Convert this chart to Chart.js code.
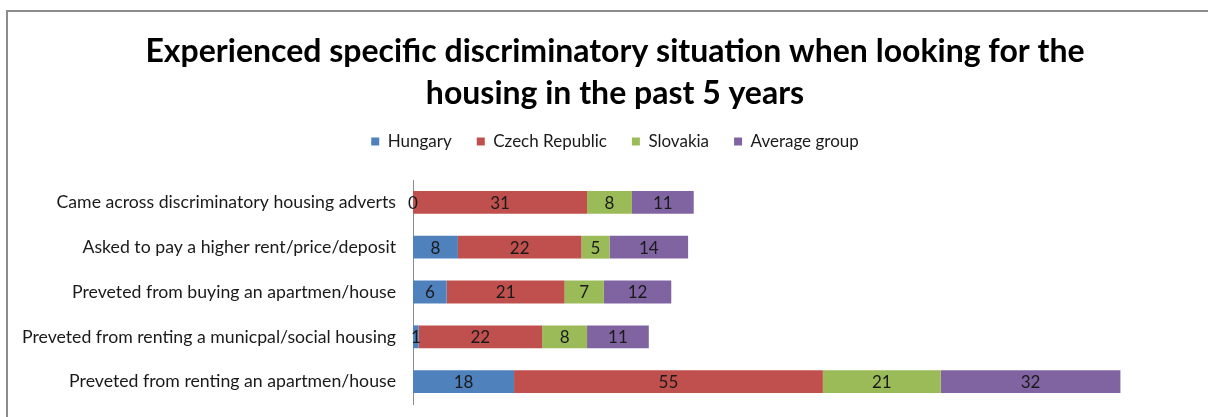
<!DOCTYPE html>
<html lang="en">
<head>
    <meta charset="UTF-8">
    <title>Discriminatory situations when looking for housing</title>
    <script src="https://cdn.jsdelivr.net/npm/chart.js"></script>
    <style>
        body { margin: 0; background: #fff; overflow: hidden; }
        #wrap { position: relative; width: 1208px; height: 417px; }
        #frame {
            position: absolute; left: 6px; top: 10px; width: 1300px; height: 500px;
            border-top: 2px solid #8c8c8c; border-left: 2px solid #8c8c8c;
        }
        #housingChart { position: absolute; left: 0; top: 0; }
    </style>
</head>
<body>
<div id="wrap">
    <div id="frame"></div>
    <canvas id="housingChart" width="1208" height="417"></canvas>
</div>
<script>
    const categories = [
        'Came across discriminatory housing adverts',
        'Asked to pay a higher rent/price/deposit',
        'Preveted from buying an apartmen/house',
        'Preveted from renting a municpal/social housing',
        'Preveted from renting an apartmen/house'
    ];
    const hungary = [0, 8, 6, 1, 18];
    const czechRepublic = [31, 22, 21, 22, 55];
    const slovakia = [8, 5, 7, 8, 21];
    const averageGroup = [11, 14, 12, 11, 32];

    const FONT = 'Lato, "Open Sans", sans-serif';

    // writes each segment's value in the middle of the segment
    const segmentLabels = {
        id: 'segmentLabels',
        afterDatasetsDraw(chart) {
            const ctx = chart.ctx;
            ctx.save();
            ctx.font = '17px ' + FONT;
            ctx.fillStyle = '#1a1a1a';
            ctx.textAlign = 'center';
            ctx.textBaseline = 'middle';
            chart.data.datasets.forEach((ds, i) => {
                chart.getDatasetMeta(i).data.forEach((bar, j) => {
                    ctx.fillText(String(ds.data[j]), (bar.x + bar.base) / 2, bar.y + 1);
                });
            });
            ctx.restore();
        }
    };

    new Chart(document.getElementById('housingChart'), {
        type: 'bar',
        data: {
            labels: categories,
            datasets: [
                { label: 'Hungary', data: hungary, backgroundColor: '#4f81bd' },
                { label: 'Czech Republic', data: czechRepublic, backgroundColor: '#c0504d' },
                { label: 'Slovakia', data: slovakia, backgroundColor: '#9bbb59' },
                { label: 'Average group', data: averageGroup, backgroundColor: '#8064a2' }
            ]
        },
        options: {
            indexAxis: 'y',
            responsive: false,
            animation: false,
            devicePixelRatio: 1,
            layout: { padding: { left: 22, right: 0, top: 0, bottom: 13 } },
            datasets: { bar: { categoryPercentage: 0.51, barPercentage: 1 } },
            plugins: {
                title: {
                    display: true,
                    text: ['Experienced specific discriminatory situation when looking for the',
                           'housing in the past 5 years'],
                    color: '#000',
                    font: { family: FONT, size: 32, weight: 'bold', lineHeight: 1.3125 },
                    padding: { top: 31, bottom: -7 }
                },
                legend: {
                    position: 'top',
                    labels: {
                        color: '#1a1a1a',
                        font: { family: FONT, size: 17 },
                        boxWidth: 8,
                        boxHeight: 8,
                        padding: 25
                    }
                },
                tooltip: { enabled: false }
            },
            scales: {
                x: {
                    stacked: true,
                    position: 'top',
                    min: 0,
                    max: 141.6,
                    grid: { display: false },
                    border: { display: false },
                    ticks: { display: false },
                    afterFit(scale) { scale.height = 20; }
                },
                y: {
                    stacked: true,
                    grid: { display: false, drawTicks: true, tickLength: 15 },
                    border: { display: true, color: '#8c8c8c', width: 1 },
                    ticks: {
                        color: '#1a1a1a',
                        font: { family: FONT, size: 17.7 },
                        padding: 2
                    },
                    afterFit(scale) { scale.width = 391; }
                }
            }
        },
        plugins: [segmentLabels]
    });
</script>
</body>
</html>
